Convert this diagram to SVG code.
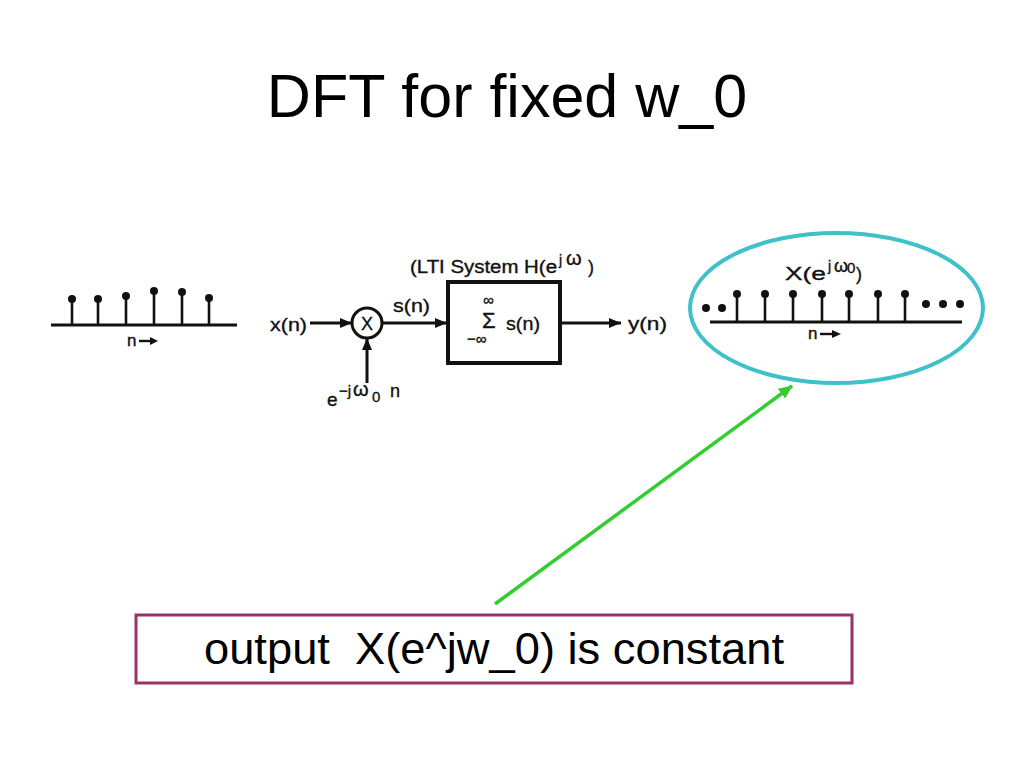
<svg xmlns="http://www.w3.org/2000/svg" width="1024" height="768" viewBox="0 0 1024 768">
<defs>
<style>
.sc{font-family:"Liberation Sans",Arial,sans-serif;fill:#111;stroke:#111;stroke-width:0.35;}
.ln{stroke:#111;stroke-width:3;fill:none;}
.stem{stroke:#111;stroke-width:2.6;}
.dot{fill:#111;}
</style>
<marker id="ah" viewBox="0 0 12 10" refX="12" refY="5" markerWidth="12" markerHeight="10" markerUnits="userSpaceOnUse" orient="auto">
<path d="M0,0 L12,5 L0,10 z" fill="#111"/>
</marker>
<marker id="gh" viewBox="0 0 14 12" refX="13" refY="6" markerWidth="14" markerHeight="12" markerUnits="userSpaceOnUse" orient="auto">
<path d="M0,0 L14,6 L0,12 z" fill="#33cc33"/>
</marker>
</defs>
<rect width="1024" height="768" fill="#fff"/>
<text id="title" x="507" y="117" text-anchor="middle" font-family="Liberation Sans, Arial, sans-serif" font-size="61" fill="#000">DFT for fixed w_0</text>

<g id="input-plot">
<line class="ln" x1="51" y1="325" x2="237" y2="325"/>
<line class="stem" x1="72" y1="325" x2="72" y2="299"/><circle class="dot" cx="72" cy="299" r="4"/>
<line class="stem" x1="98" y1="325" x2="98" y2="299"/><circle class="dot" cx="98" cy="299" r="4"/>
<line class="stem" x1="126" y1="325" x2="126" y2="296"/><circle class="dot" cx="126" cy="296" r="4"/>
<line class="stem" x1="154" y1="325" x2="154" y2="291"/><circle class="dot" cx="154" cy="291" r="4"/>
<line class="stem" x1="182" y1="325" x2="182" y2="292"/><circle class="dot" cx="182" cy="292" r="4"/>
<line class="stem" x1="209" y1="325" x2="209" y2="298"/><circle class="dot" cx="209" cy="298" r="4"/>
<text class="sc" x="127" y="346" font-size="17">n</text>
<line x1="139" y1="341" x2="152" y2="341" stroke="#111" stroke-width="2.4"/>
<path d="M150,337 L158,341 L150,345 z" fill="#111"/>
</g>

<g id="x-label"><text class="sc" x="270" y="331" font-size="19" textLength="37" lengthAdjust="spacingAndGlyphs">x(n)</text></g>

<g id="multiplier">
<circle cx="367" cy="323" r="15" fill="#fff" stroke="#111" stroke-width="3"/>
<text class="sc" x="367" y="330" font-size="18" text-anchor="middle">X</text>
</g>

<g id="exp-label">
<text class="sc" font-size="19" y="406"><tspan x="327">e</tspan><tspan x="339" y="396" font-size="15">−j</tspan><tspan x="353" y="396" font-size="20">ω</tspan><tspan x="372" y="402" font-size="15">0</tspan><tspan x="390" y="397" font-size="18">n</tspan></text>
</g>

<g id="lti-system">
<text class="sc" font-size="18" y="273"><tspan x="410" textLength="147" lengthAdjust="spacingAndGlyphs">(LTI System H(e</tspan><tspan x="559" y="265" font-size="14">j</tspan><tspan x="566" y="265" font-size="20">ω</tspan><tspan x="588" y="273">)</tspan></text>
<rect x="448" y="282" width="112" height="81" fill="#fff" stroke="#111" stroke-width="4"/>
<text class="sc" font-size="15"><tspan x="483" y="305">∞</tspan><tspan x="482" y="328" font-size="22">Σ</tspan><tspan x="467" y="344">−∞</tspan><tspan x="506" y="330" font-size="19" textLength="34" lengthAdjust="spacingAndGlyphs">s(n)</tspan></text>
</g>

<g id="s-label"><text class="sc" x="393" y="312" font-size="19" textLength="37" lengthAdjust="spacingAndGlyphs">s(n)</text></g>
<g id="y-label"><text class="sc" x="628" y="330" font-size="19" textLength="39" lengthAdjust="spacingAndGlyphs">y(n)</text></g>

<g id="output-highlight">
<ellipse cx="836.5" cy="308" rx="146.5" ry="75" fill="none" stroke="#3fc1c9" stroke-width="4"/>
<text class="sc" font-size="19" y="280"><tspan x="785" textLength="41" lengthAdjust="spacingAndGlyphs">X(e</tspan><tspan x="828" y="271" font-size="14">j</tspan><tspan x="834" y="272" font-size="18">ω</tspan><tspan x="847" y="273" font-size="15">0</tspan><tspan x="856" y="280" font-size="18">)</tspan></text>
<line class="ln" x1="710" y1="322" x2="962" y2="322"/>
<circle class="dot" cx="706" cy="308" r="4"/><circle class="dot" cx="722" cy="308" r="4"/>
<line class="stem" x1="737" y1="322" x2="737" y2="294"/><circle class="dot" cx="737" cy="294" r="4"/>
<line class="stem" x1="765" y1="322" x2="765" y2="294"/><circle class="dot" cx="765" cy="294" r="4"/>
<line class="stem" x1="793" y1="322" x2="793" y2="294"/><circle class="dot" cx="793" cy="294" r="4"/>
<line class="stem" x1="822" y1="322" x2="822" y2="294"/><circle class="dot" cx="822" cy="294" r="4"/>
<line class="stem" x1="849" y1="322" x2="849" y2="294"/><circle class="dot" cx="849" cy="294" r="4"/>
<line class="stem" x1="878" y1="322" x2="878" y2="294"/><circle class="dot" cx="878" cy="294" r="4"/>
<line class="stem" x1="905" y1="322" x2="905" y2="294"/><circle class="dot" cx="905" cy="294" r="4"/>
<circle class="dot" cx="926" cy="304" r="4"/><circle class="dot" cx="943" cy="304" r="4"/><circle class="dot" cx="960" cy="304" r="4"/>
<text class="sc" x="808" y="339" font-size="17">n</text>
<line x1="820" y1="334" x2="834" y2="334" stroke="#111" stroke-width="2.4"/>
<path d="M832,330 L841,334 L832,338 z" fill="#111"/>
</g>

<g id="note">
<rect x="136" y="615" width="716" height="68" fill="#fff" stroke="#993366" stroke-width="3"/>
<text xml:space="preserve" x="494" y="664" text-anchor="middle" font-family="Liberation Sans, Arial, sans-serif" font-size="45" fill="#000" textLength="580" lengthAdjust="spacingAndGlyphs">output  X(e^jw_0) is constant</text>
</g>

<g id="connectors">
<line x1="310" y1="323" x2="352" y2="323" stroke="#111" stroke-width="3" marker-end="url(#ah)"/>
<line x1="382" y1="323" x2="447" y2="323" stroke="#111" stroke-width="3" marker-end="url(#ah)"/>
<line x1="561" y1="323" x2="621" y2="323" stroke="#111" stroke-width="3" marker-end="url(#ah)"/>
<line x1="367" y1="383" x2="367" y2="338" stroke="#111" stroke-width="3" marker-end="url(#ah)"/>
<line x1="495" y1="604" x2="792" y2="386" stroke="#33cc33" stroke-width="3.5" marker-end="url(#gh)"/>
</g>
</svg>
